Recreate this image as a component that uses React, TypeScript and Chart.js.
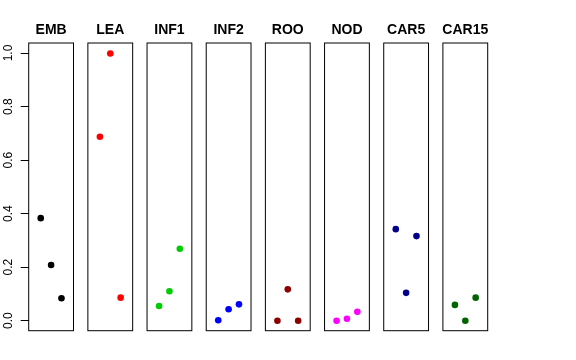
import React, { useEffect, useRef } from "react";
import { Chart, registerables } from "chart.js";

Chart.register(...registerables);

const categories = ["EMB", "LEA", "INF1", "INF2", "ROO", "NOD", "CAR5", "CAR15"];
const emb = [0.383, 0.208, 0.084];
const lea = [0.687, 0.998, 0.086];
const inf1 = [0.055, 0.11, 0.269];
const inf2 = [0.0015, 0.043, 0.061];
const roo = [0.0, 0.117, 0.0];
const nod = [0.0, 0.0075, 0.033];
const car5 = [0.342, 0.104, 0.316];
const car15 = [0.059, 0.0, 0.086];
const seriesValues = [emb, lea, inf1, inf2, roo, nod, car5, car15];
const colors = ["#000000", "#FF0000", "#00CD00", "#0000FF", "#8B0000", "#FF00FF", "#00008B", "#006400"];
const yTicks = [0, 0.2, 0.4, 0.6, 0.8, 1.0];

const STRIDE = 5.706;
const XPAD = 0.16;

const FONT = "'Liberation Sans', Arial, Helvetica, sans-serif";

export default function App() {
  const ref = useRef<HTMLCanvasElement | null>(null);
  useEffect(() => {
    const canvas = ref.current;
    if (!canvas) return;
    const panelPlugin = {
      id: "panels",
      beforeDatasetsDraw(chart: any) {
        const { ctx, chartArea, scales } = chart;
        const xs = scales.x;
        ctx.save();
        ctx.strokeStyle = "#000";
        ctx.lineWidth = 1;
        categories.forEach((_, i) => {
          const l = xs.getPixelForValue(i * STRIDE - XPAD);
          const r = xs.getPixelForValue(i * STRIDE + 4 + XPAD);
          ctx.strokeRect(l, chartArea.top, r - l, chartArea.bottom - chartArea.top);
        });
        ctx.restore();
      },
      afterDraw(chart: any) {
        const { ctx, scales } = chart;
        const xs = scales.x;
        ctx.save();
        ctx.fillStyle = "#000";
        ctx.font = `bold 14px ${FONT}`;
        ctx.textAlign = "center";
        ctx.textBaseline = "alphabetic";
        categories.forEach((name, i) => {
          const cx = xs.getPixelForValue(i * STRIDE + 2);
          ctx.fillText(name, cx, 34);
        });
        ctx.restore();
      },
    };
    const datasets = categories.map((name, i) => ({
      label: name,
      data: seriesValues[i].map((v, j) => ({ x: i * STRIDE + j + 1, y: v })),
      backgroundColor: colors[i],
      borderColor: colors[i],
      pointRadius: 3.3,
      pointBorderWidth: 0,
      showLine: false,
    }));
    const chart = new Chart(canvas, {
      type: "scatter",
      data: { datasets },
      options: {
        animation: false,
        responsive: false,
        maintainAspectRatio: false,
        layout: { padding: { top: 43, bottom: 29.3, left: 0, right: 88.3 } },
        plugins: { legend: { display: false }, tooltip: { enabled: false }, title: { display: false } },
        scales: {
          x: {
            type: "linear",
            display: false,
            min: -XPAD,
            max: 7 * STRIDE + 4 + XPAD,
          },
          y: {
            type: "linear",
            min: -0.0374,
            max: 1.0374,
            afterFit: (scale: any) => {
              scale.width = 28.7;
            },
            afterBuildTicks: (scale: any) => {
              scale.ticks = yTicks.map((v) => ({ value: v }));
            },
            border: { display: false },
            grid: {
              drawOnChartArea: false,
              drawTicks: true,
              tickLength: 8,
              color: "#000",
              tickColor: "#000",
            },
            ticks: {
              minRotation: 90,
              maxRotation: 90,
              crossAlign: "center",
              padding: 4,
              color: "#000",
              font: { family: FONT, size: 12 },
              callback: (v: any) => Number(v).toFixed(1),
            },
          },
        },
      },
      plugins: [panelPlugin],
    } as any);
    return () => chart.destroy();
  }, []);
  return (
    <div style={{ position: "absolute", left: 0, top: 0, width: 576, height: 360, background: "#fff" }}>
      <canvas ref={ref} width={576} height={360} style={{ width: 576, height: 360, display: "block" }} />
    </div>
  );
}
